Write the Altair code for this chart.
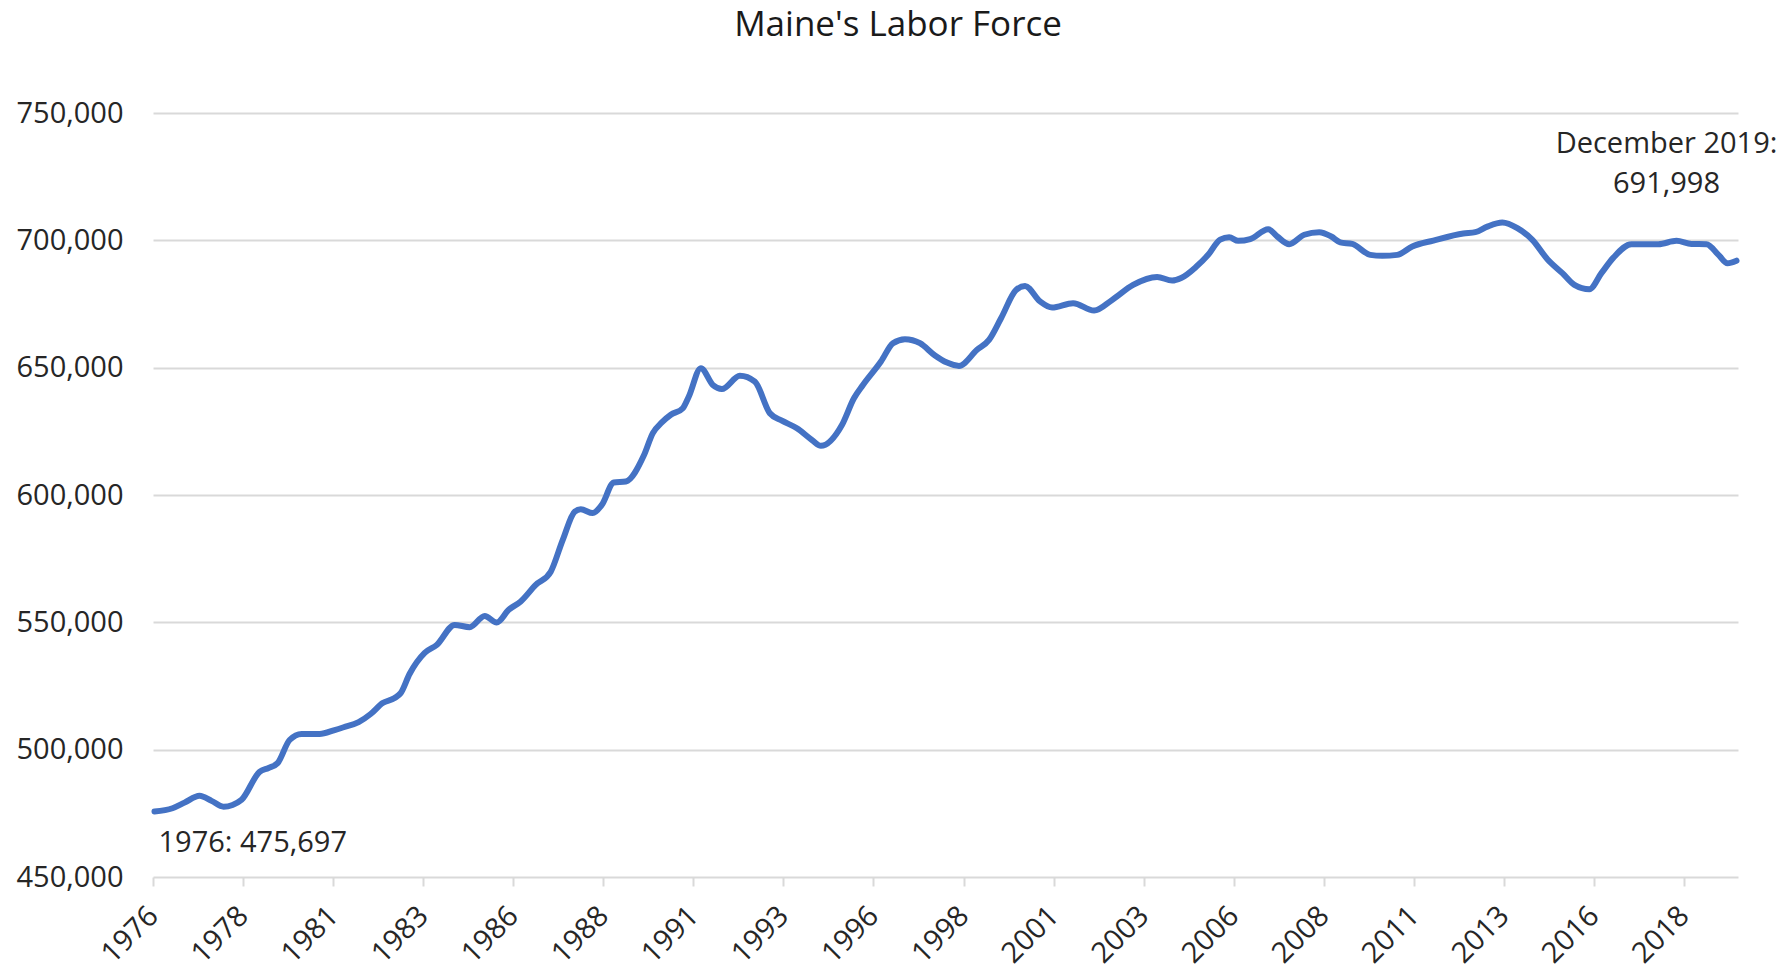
import altair as alt
import pandas as pd

# Months since January 1976 (0 = Jan 1976, 527 = Dec 2019)
months = [0, 6, 10, 15, 19, 23, 26, 29, 35, 38, 41, 45, 49, 55, 60, 63, 68, 72, 76, 80,
          82, 85, 90, 94, 100, 105, 110, 114, 118, 122, 127, 132, 136, 140, 142, 146, 149,
          153, 157, 163, 166, 169, 172, 176, 178, 182, 186, 189, 195, 200, 205, 209, 214,
          219, 222, 229, 233, 236, 242, 246, 250, 255, 260, 264, 268, 274, 278, 282, 287,
          290, 295, 299, 306, 313, 319, 326, 334, 339, 342, 347, 351, 355, 358, 361, 365,
          371, 374, 378, 383, 388, 392, 395, 399, 405, 409, 414, 419, 426, 436, 440, 444,
          449, 454, 459, 464, 469, 473, 478, 482, 486, 492, 501, 507, 512, 517, 521, 524, 527]
labor_force = [475697, 477000, 479200, 481900, 479900, 477600, 478300, 480300, 491300, 492800,
               494700, 503800, 506200, 506200, 507700, 508800, 510800, 514000, 518300, 520300,
               522200, 529800, 538000, 541100, 549000, 548100, 552500, 549900, 554900, 558200,
               564700, 569900, 582400, 593500, 594400, 592900, 596100, 604900, 605300, 615500,
               624300, 628500, 631500, 634100, 638700, 649800, 643200, 641600, 646800, 644500,
               632100, 629200, 626200, 621600, 619300, 627500, 638000, 643200, 652400, 659600,
               661200, 659600, 654800, 652000, 650700, 657000, 660900, 669400, 680500, 682100,
               676000, 673600, 675300, 672400, 676600, 682500, 685600, 684200, 685200, 689600,
               694300, 700300, 701200, 699800, 700500, 704400, 701500, 698500, 702200, 703200,
               701500, 699200, 698600, 694300, 693900, 694300, 697600, 699900, 702700, 703200,
               705400, 707000, 704800, 700200, 692600, 687100, 682500, 680800, 687100, 693200,
               698500, 698500, 699800, 698600, 698500, 694300, 691000, 691998]

tick_months = [0, 30, 60, 90, 120, 150, 180, 210, 240, 270, 300, 330, 360, 390, 420, 450, 480, 510]
tick_labels = ["1976", "1978", "1981", "1983", "1986", "1988", "1991", "1993", "1996",
               "1998", "2001", "2003", "2006", "2008", "2011", "2013", "2016", "2018"]
y_ticks = [450000, 500000, 550000, 600000, 650000, 700000, 750000]

title_text = ["Maine's Labor Force"]
ann_month = [0, 527]
ann_value = [475697, 691998]
ann_text = ["1976: 475,697", "December 2019:\n691,998"]

df = pd.DataFrame({"m": [m + 0.5 for m in months], "v": labor_force})
ann_start = pd.DataFrame({"m": [ann_month[0] + 0.5], "v": [ann_value[0]], "t": [ann_text[0]]})
ann_end = pd.DataFrame({"m": [ann_month[1] + 0.5], "v": [ann_value[1]], "t": [ann_text[1]]})
title_df = pd.DataFrame({"t": title_text})

label_array = "[" + ",".join("'" + s + "'" for s in tick_labels) + "]"

x_enc = alt.X("m:Q",
              scale=alt.Scale(domain=[0, 528], nice=False, zero=False),
              axis=alt.Axis(values=tick_months,
                            labelExpr=label_array + "[round(datum.value/30)]",
                            labelAngle=-45, labelAlign="right", labelBaseline="middle",
                            labelPadding=25, labelOffset=0,
                            grid=False, domain=False, ticks=True, tickSize=9,
                            tickColor="#d9d9d9", tickWidth=2, title=None))
y_enc = alt.Y("v:Q",
              scale=alt.Scale(domain=[450000, 750000], nice=False, zero=False),
              axis=alt.Axis(values=y_ticks, labelExpr="format(datum.value, ',')",
                            grid=True, gridColor="#d9d9d9",
                            gridWidth=2, domain=False, ticks=False, labelPadding=30,
                            title=None))

line = alt.Chart(df).mark_line(color="#4472C4", strokeWidth=6, interpolate="monotone",
                               strokeCap="round", strokeJoin="round").encode(x=x_enc, y=y_enc)

t1 = alt.Chart(ann_start).mark_text(align="left", baseline="alphabetic", dx=4, dy=40,
                                    fontSize=29, font="Open Sans", color="#262626").encode(
    x="m:Q", y="v:Q", text="t:N")
t2 = alt.Chart(ann_end).mark_text(align="center", baseline="alphabetic", dx=-70, dy=-108,
                                  lineBreak="\n", lineHeight=40,
                                  fontSize=29, font="Open Sans", color="#262626").encode(
    x="m:Q", y="v:Q", text="t:N")

title_mark = alt.Chart(title_df).mark_text(align="center", baseline="alphabetic",
                                           fontSize=35, font="Open Sans",
                                           color="#1a1a1a").encode(
    x=alt.value(745), y=alt.value(-77), text="t:N")

chart = alt.layer(line, t1, t2, title_mark).properties(
    width=1585, height=764,
    autosize=alt.AutoSizeParams(type="none"),
    padding={"left": 145, "top": 105, "right": 40, "bottom": 87},
).configure_view(stroke=None).configure_axis(
    labelFont="Open Sans", labelFontSize=29, labelColor="#262626"
)

chart.save("out.html", embed_options={"renderer": "svg", "actions": False})
